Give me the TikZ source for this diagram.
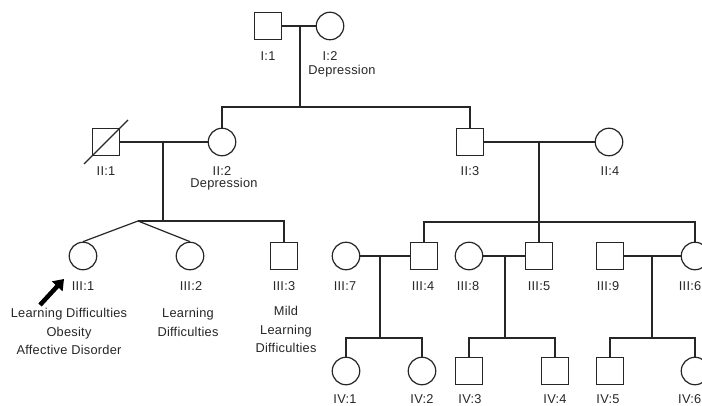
\documentclass[tikz,border=0pt]{standalone}
\usepackage{fontspec}
\setmainfont[LetterSpace=2]{Liberation Sans}
\usetikzlibrary{arrows.meta}
\begin{document}
\begin{tikzpicture}[x=1pt,y=-1pt,
  fem/.style={draw=black!85,line width=1.2pt,circle,minimum size=27.5pt,inner sep=0pt},
  mal/.style={draw=black!85,line width=1.2pt,rectangle,minimum size=27pt,inner sep=0pt},
  lbl/.style={font=\fontsize{12.8}{13}\selectfont,inner sep=0pt,text=black!85,align=center},
  ln/.style={draw=black!85,line width=1.2pt}]
\useasboundingbox[fill=white] (0,0) rectangle (702,406);
% Generation I
\node[mal] (i1) at (268,26) {};
\node[fem] (i2) at (330,26) {};
\node[lbl] (li1) at (268,56) {I:1};
\node[lbl] (li2) at (330,56) {I:2};
\node[lbl] (ldep1) at (342,71) {Depression};
\coordinate (m1) at (300,26);
\coordinate (s1) at (300,107);
% Generation II
\node[mal] (ii1) at (106,142) {};
\node[fem] (ii2) at (222,142) {};
\node[mal] (ii3) at (470,142) {};
\node[fem] (ii4) at (609,142) {};
\node[lbl] (lii1) at (106,171) {II:1};
\node[lbl] (lii2) at (222,171) {II:2};
\node[lbl] (ldep2) at (224,184) {Depression};
\node[lbl] (lii3) at (470,171) {II:3};
\node[lbl] (lii4) at (610,171) {II:4};
\coordinate (dA) at (84,164);
\coordinate (dB) at (128,120);
\coordinate (m2) at (163,142);
\coordinate (s2) at (163,221);
\coordinate (tw) at (138,221);
\coordinate (m3) at (539,142);
\coordinate (s3) at (539,222);
% Generation III
\node[fem] (iii1) at (83,256) {};
\node[fem] (iii2) at (190,256) {};
\node[mal] (iii3) at (284,256) {};
\node[fem] (iii7) at (346,256) {};
\node[mal] (iii4) at (424,256) {};
\node[fem] (iii8) at (469,256) {};
\node[mal] (iii5) at (539,256) {};
\node[mal] (iii9) at (610,256) {};
\node[fem] (iii6) at (695,256) {};
\node[lbl] (liii1) at (83,286) {III:1};
\node[lbl] (liii2) at (191,286) {III:2};
\node[lbl] (liii3) at (284,286) {III:3};
\node[lbl] (liii7) at (345,286) {III:7};
\node[lbl] (liii4) at (423,286) {III:4};
\node[lbl] (liii8) at (468,286) {III:8};
\node[lbl] (liii5) at (539,286) {III:5};
\node[lbl] (liii9) at (608,286) {III:9};
\node[lbl,anchor=east] (liii6) at (701.5,286) {III:6};
\node[lbl] (d1) at (69,331.5) {Learning Difficulties\\[5.5pt]Obesity\\[5.5pt]Affective Disorder};
\node[lbl] (d2) at (188,322.5) {Learning\\[5.5pt]Difficulties};
\node[lbl] (d3) at (286,329.5) {Mild\\[5.5pt]Learning\\[5.5pt]Difficulties};
\coordinate (arA) at (40,305);
\coordinate (arB) at (64,279);
\coordinate (m4) at (380,256);
\coordinate (s4) at (380,338);
\coordinate (m5) at (505,256);
\coordinate (s5) at (505,338);
\coordinate (m6) at (652,256);
\coordinate (s6) at (652,338);
% Generation IV
\node[fem] (iv1) at (346,371) {};
\node[fem] (iv2) at (422,371) {};
\node[mal] (iv3) at (469,371) {};
\node[mal] (iv4) at (555,371) {};
\node[mal] (iv5) at (610,371) {};
\node[fem] (iv6) at (695,371) {};
\node[lbl] (liv1) at (345,399) {IV:1};
\node[lbl] (liv2) at (422,399) {IV:2};
\node[lbl] (liv3) at (470,399) {IV:3};
\node[lbl] (liv4) at (555,399) {IV:4};
\node[lbl] (liv5) at (608,399) {IV:5};
\node[lbl,anchor=east] (liv6) at (701.5,399) {IV:6};
% connectors
\draw[ln] (i1.east) -- (i2.west);
\draw[ln] (m1) -- (s1);
\draw[ln] (s1) -| (ii2.north);
\draw[ln] (s1) -| (ii3.north);
\draw[ln] (dA) -- (dB);
\draw[ln] (ii1.east) -- (ii2.west);
\draw[ln] (m2) -- (s2);
\draw[ln] (tw) -- (s2) -| (iii3.north);
\draw[ln] (tw) -- (iii1.north);
\draw[ln] (tw) -- (iii2.north);
\draw[ln] (ii3.east) -- (ii4.west);
\draw[ln] (m3) -- (s3);
\draw[ln] (s3) -| (iii4.north);
\draw[ln] (s3) -- (iii5.north);
\draw[ln] (s3) -| (iii6.north);
\draw[ln] (iii7.east) -- (iii4.west);
\draw[ln] (m4) -- (s4);
\draw[ln] (s4) -| (iv1.north);
\draw[ln] (s4) -| (iv2.north);
\draw[ln] (iii8.east) -- (iii5.west);
\draw[ln] (m5) -- (s5);
\draw[ln] (s5) -| (iv3.north);
\draw[ln] (s5) -| (iv4.north);
\draw[ln] (iii9.east) -- (iii6.west);
\draw[ln] (m6) -- (s6);
\draw[ln] (s6) -| (iv5.north);
\draw[ln] (s6) -| (iv6.north);
\draw[line width=4.5pt,-{Triangle[length=10pt,width=14pt]}] (arA) -- (arB);
\end{tikzpicture}
\end{document}
